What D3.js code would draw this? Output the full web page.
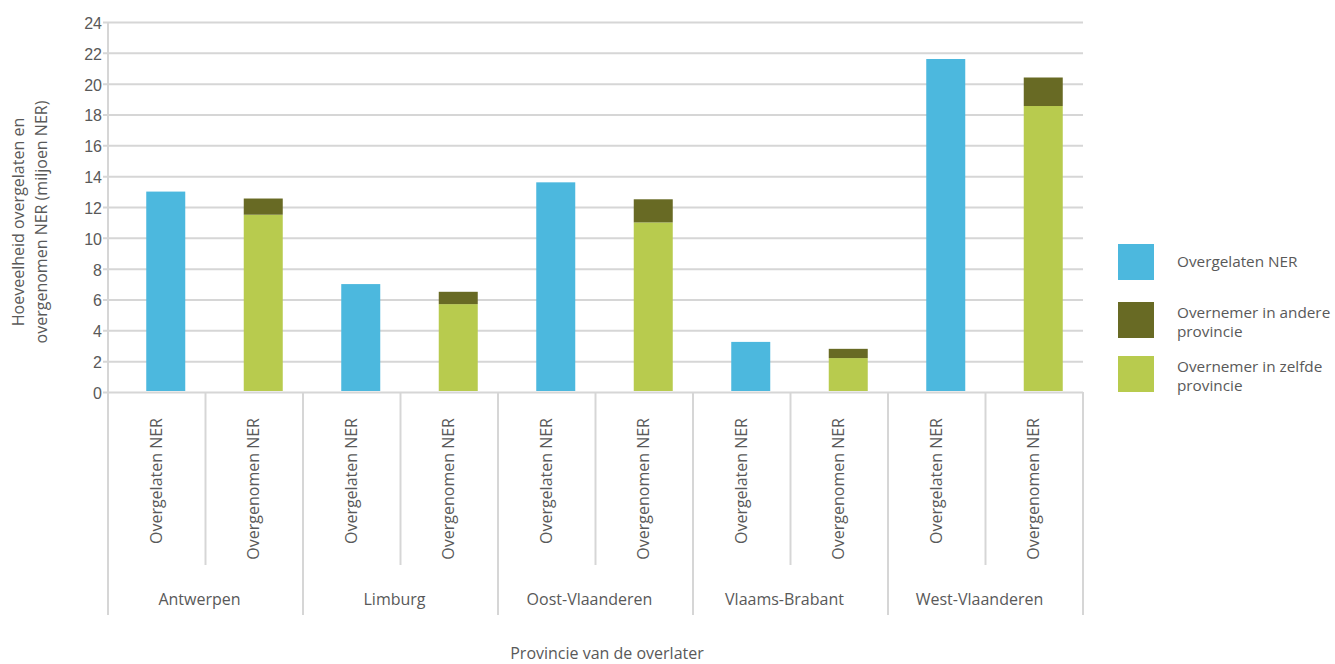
<!DOCTYPE html>
<html>
<head>
<meta charset="utf-8">
<script src="https://cdn.jsdelivr.net/npm/d3@7"></script>
<style>
  html, body { margin: 0; padding: 0; background: #fff; }
  svg { display: block; font-family: "Open Sans", "Noto Sans", sans-serif; }
</style>
</head>
<body>
<svg id="chart" width="1335" height="664"></svg>
<script>
// Provinces and the two bars shown for each
const provinces = ["Antwerpen", "Limburg", "Oost-Vlaanderen", "Vlaams-Brabant", "West-Vlaanderen"];
const barKinds = ["Overgelaten NER", "Overgenomen NER"];

// Values in million NER
const overgelaten = [13.0, 7.0, 13.6, 3.25, 21.6];
const zelfdeProvincie = [11.5, 5.7, 11.0, 2.2, 18.55];
const andereProvincie = [1.05, 0.8, 1.5, 0.6, 1.85];

const yTicks = [0, 2, 4, 6, 8, 10, 12, 14, 16, 18, 20, 22, 24];

const seriesNames = ["Overgelaten NER", "Overnemer in andere provincie", "Overnemer in zelfde provincie"];
const seriesColors = ["#4cb8de", "#686a24", "#b8cb4e"];

const svg = d3.select("#chart");
const plotLeft = 108, plotRight = 1083, plotTop = 22, plotBottom = 392;
const textColor = "#595959";
const gridColor = "#d6d6d6";
const fontSize = 16;

const y = d3.scaleLinear().domain([0, 24]).range([plotBottom, plotTop]);
const xProv = d3.scaleBand().domain(provinces).range([plotLeft, plotRight]).padding(0);
const xKind = d3.scaleBand().domain(barKinds).range([0, xProv.bandwidth()]).padding(0);
const barW = 39;
const barShift = 9; // bars sit slightly right of their label column

// Gridlines and y axis
const yAxis = d3.axisLeft(y).tickValues(yTicks).tickSize(-(plotRight - plotLeft)).tickSizeOuter(0).tickPadding(6);
const gy = svg.append("g").attr("transform", `translate(${plotLeft},0)`).call(yAxis);
gy.select(".domain").remove();
gy.selectAll(".tick line").attr("stroke", gridColor).attr("stroke-width", 2).attr("x1", -5);
gy.selectAll(".tick text").attr("fill", textColor).attr("font-size", fontSize).attr("x", -6).attr("dy", "0.4em");

// Bars
const g = svg.append("g");
provinces.forEach((p, i) => {
  const x0 = xProv(p);
  const cx1 = x0 + xKind(barKinds[0]) + xKind.bandwidth() / 2 + barShift;
  const cx2 = x0 + xKind(barKinds[1]) + xKind.bandwidth() / 2 + barShift;
  g.append("rect")
    .attr("x", cx1 - barW / 2).attr("width", barW)
    .attr("y", y(overgelaten[i])).attr("height", y(0) - y(overgelaten[i]) - 1)
    .attr("fill", seriesColors[0]);
  g.append("rect")
    .attr("x", cx2 - barW / 2).attr("width", barW)
    .attr("y", y(zelfdeProvincie[i])).attr("height", y(0) - y(zelfdeProvincie[i]) - 1)
    .attr("fill", seriesColors[2]);
  const tot = zelfdeProvincie[i] + andereProvincie[i];
  g.append("rect")
    .attr("x", cx2 - barW / 2).attr("width", barW)
    .attr("y", y(tot)).attr("height", y(zelfdeProvincie[i]) - y(tot))
    .attr("fill", seriesColors[1]);
});

// Category axis frame
const frame = svg.append("g").attr("stroke", gridColor).attr("stroke-width", 2);
frame.append("line").attr("x1", plotLeft).attr("x2", plotLeft).attr("y1", plotTop).attr("y2", 615);
provinces.forEach(p => {
  const x0 = xProv(p);
  frame.append("line").attr("x1", x0 + xProv.bandwidth()).attr("x2", x0 + xProv.bandwidth())
    .attr("y1", plotBottom).attr("y2", 615);
  frame.append("line").attr("x1", x0 + xKind(barKinds[1])).attr("x2", x0 + xKind(barKinds[1]))
    .attr("y1", plotBottom).attr("y2", 565);
});

// Rotated bar labels and province labels
provinces.forEach(p => {
  const x0 = xProv(p);
  barKinds.forEach(k => {
    const cx = x0 + xKind(k) + xKind.bandwidth() / 2;
    svg.append("text")
      .attr("transform", `translate(${cx + 5},418) rotate(-90)`)
      .attr("text-anchor", "end")
      .attr("font-size", fontSize).attr("fill", textColor)
      .text(k);
  });
  svg.append("text")
    .attr("x", x0 + xProv.bandwidth() / 2 - 6).attr("y", 605)
    .attr("text-anchor", "middle").attr("font-size", fontSize).attr("fill", textColor)
    .text(p);
});

// Axis titles
svg.append("text")
  .attr("x", 607).attr("y", 659)
  .attr("text-anchor", "middle").attr("font-size", fontSize).attr("fill", textColor)
  .text("Provincie van de overlater");

const yTitle = svg.append("text")
  .attr("transform", "translate(24,222) rotate(-90)")
  .attr("text-anchor", "middle").attr("font-size", fontSize).attr("fill", textColor);
yTitle.append("tspan").attr("x", 0).attr("dy", 0).text("Hoeveelheid overgelaten en");
yTitle.append("tspan").attr("x", 0).attr("dy", 23).text("overgenomen NER (miljoen NER)");

// Legend
const legendRows = [
  { lines: ["Overgelaten NER"], y: 244 },
  { lines: ["Overnemer in andere", "provincie"], y: 302 },
  { lines: ["Overnemer in zelfde", "provincie"], y: 356 }
];
legendRows.forEach((r, i) => {
  svg.append("rect").attr("x", 1118).attr("y", r.y).attr("width", 36).attr("height", 36)
    .attr("fill", seriesColors[i]);
  const t = svg.append("text").attr("x", 1177).attr("font-size", 15.3).attr("fill", textColor);
  const startY = r.lines.length === 1 ? r.y + 23 : r.y + 16;
  r.lines.forEach((ln, j) => {
    t.append("tspan").attr("x", 1177).attr("y", startY + j * 19).text(ln);
  });
});
</script>
</body>
</html>
